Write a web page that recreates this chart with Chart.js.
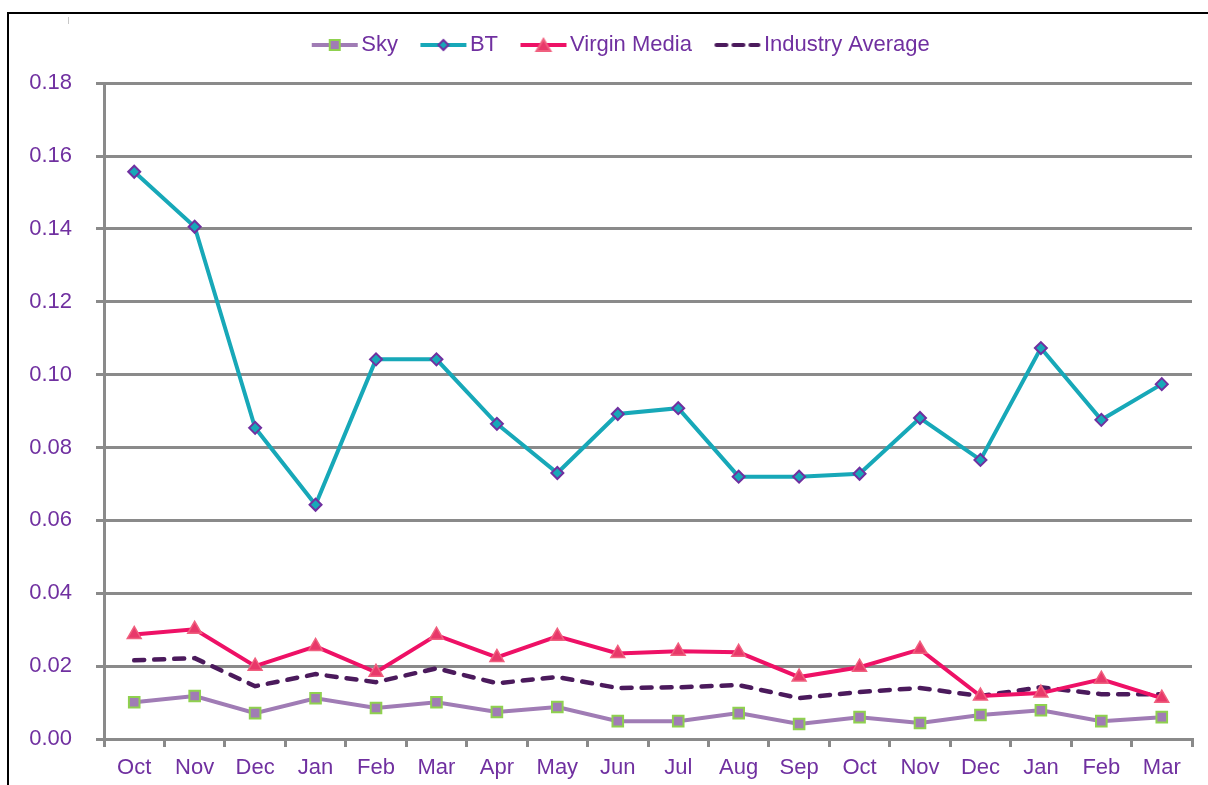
<!DOCTYPE html>
<html>
<head>
<meta charset="utf-8">
<script src="https://cdn.jsdelivr.net/npm/chart.js@4.4.0/dist/chart.umd.min.js"></script>
<style>
  html, body { margin: 0; padding: 0; background: #fff; overflow: hidden; }
  #wrap { position: relative; width: 1208px; height: 785px; }
  #frame { position: absolute; left: 7px; top: 12px; width: 1300px; height: 900px;
           border-left: 2px solid #000; border-top: 2px solid #000; }
  #nick { position: absolute; left: 68px; top: 17px; width: 1px; height: 7px; background: #c8c8c8; }
  canvas { position: absolute; left: 0; top: 0; }
</style>
</head>
<body>
<div id="wrap">
  <div id="frame"></div>
  <div id="nick"></div>
  <canvas id="chart" width="1208" height="785"></canvas>
</div>
<script>
/* ── Data ───────────────────────────────────────── */
const months = ['Oct','Nov','Dec','Jan','Feb','Mar','Apr','May','Jun','Jul','Aug','Sep',
                'Oct','Nov','Dec','Jan','Feb','Mar'];

const sky      = [0.0101,0.0118,0.0071,0.0112,0.0085,0.0101,0.0074,0.0088,0.0049,0.0049,
                  0.0071,0.0041,0.0060,0.0044,0.0066,0.0079,0.0049,0.0060];
const bt       = [0.1557,0.1406,0.0854,0.0643,0.1042,0.1042,0.0865,0.0730,0.0892,0.0908,
                  0.0720,0.0720,0.0728,0.0881,0.0766,0.1073,0.0876,0.0974];
const virgin   = [0.0287,0.0301,0.0200,0.0254,0.0183,0.0285,0.0224,0.0282,0.0235,0.0241,
                  0.0238,0.0170,0.0197,0.0246,0.0118,0.0126,0.0164,0.0112];
const industry = [0.0216,0.0222,0.0145,0.0178,0.0156,0.0194,0.0153,0.0170,0.0140,0.0142,
                  0.0148,0.0112,0.0129,0.0140,0.0118,0.0142,0.0123,0.0123];

const yMin = 0, yMax = 0.18, yStep = 0.02;

/* ── Colours ────────────────────────────────────── */
const TXT   = '#7030a0';
const GRID  = '#8a8a8a';
const C_SKY = '#a07cb5', C_SKY_EDGE = '#8fd14f';
const C_BT  = '#17a8b8', C_BT_EDGE  = '#7030a0';
const C_VM  = '#ee1166', C_VM_FILL  = '#e8386a', C_VM_EDGE = '#f0607f';
const C_IA  = '#4b1a5c';

/* ── Legend symbols (line + marker, Excel style) ── */
function legendSymbol(kind) {
  const c = document.createElement('canvas');
  c.width = 48; c.height = 16;
  const g = c.getContext('2d');
  const cy = 8;
  g.lineWidth = 4;
  if (kind === 'ia') {
    g.strokeStyle = C_IA; g.lineCap = 'round';
    g.setLineDash([10, 7]);
    g.beginPath(); g.moveTo(3, cy); g.lineTo(45, cy); g.stroke();
    return c;
  }
  g.strokeStyle = kind === 'sky' ? C_SKY : kind === 'bt' ? C_BT : C_VM;
  g.beginPath(); g.moveTo(1, cy); g.lineTo(47, cy); g.stroke();
  g.lineWidth = 2;
  if (kind === 'sky') {
    g.fillStyle = C_SKY; g.strokeStyle = C_SKY_EDGE;
    g.fillRect(19, cy - 5, 10, 10); g.strokeRect(19, cy - 5, 10, 10);
  } else if (kind === 'bt') {
    g.fillStyle = C_BT; g.strokeStyle = C_BT_EDGE;
    g.beginPath(); g.moveTo(24, cy - 5); g.lineTo(29, cy); g.lineTo(24, cy + 5); g.lineTo(19, cy); g.closePath();
    g.fill(); g.stroke();
  } else {
    g.fillStyle = C_VM_FILL; g.strokeStyle = C_VM_EDGE;
    g.beginPath(); g.moveTo(24, cy - 6); g.lineTo(31, cy + 6); g.lineTo(17, cy + 6); g.closePath();
    g.fill(); g.stroke();
  }
  return c;
}
const symbols = [legendSymbol('sky'), legendSymbol('bt'), legendSymbol('vm'), legendSymbol('ia')];

// legend sits a little right of centre in the original
const legendNudge = {
  id: 'legendNudge',
  beforeDraw(chart) { if (chart.legend) chart.legend.left = 57; }
};

/* ── Chart ──────────────────────────────────────── */
new Chart(document.getElementById('chart'), {
  type: 'line',
  data: {
    labels: months,
    datasets: [
      { label: 'Sky', data: sky, borderColor: C_SKY, borderWidth: 4,
        pointStyle: 'rect', pointRadius: 7.5, pointBackgroundColor: C_SKY,
        pointBorderColor: C_SKY_EDGE, pointBorderWidth: 2 },
      { label: 'BT', data: bt, borderColor: C_BT, borderWidth: 4,
        pointStyle: 'rectRot', pointRadius: 6, pointBackgroundColor: C_BT,
        pointBorderColor: C_BT_EDGE, pointBorderWidth: 2 },
      { label: 'Virgin Media', data: virgin, borderColor: C_VM, borderWidth: 4,
        pointStyle: 'triangle', pointRadius: 8, pointBackgroundColor: C_VM_FILL,
        pointBorderColor: C_VM_EDGE, pointBorderWidth: 1.5 },
      { label: 'Industry Average', data: industry, borderColor: C_IA, borderWidth: 4.5,
        borderDash: [10, 10], borderCapStyle: 'round', pointRadius: 0 }
    ]
  },
  plugins: [legendNudge],
  options: {
    responsive: false,
    animation: false,
    layout: { padding: { left: 0, right: 16, top: 4, bottom: 0 } },
    plugins: {
      legend: {
        position: 'top',
        labels: {
          usePointStyle: true,
          pointStyleWidth: 31,
          padding: 30,
          color: TXT,
          font: { family: 'Liberation Sans', size: 22 },
          generateLabels: chart => chart.data.datasets.map((ds, i) => ({
            text: ds.label, pointStyle: symbols[i], datasetIndex: i,
            fontColor: TXT, lineWidth: 0, hidden: false
          }))
        }
      },
      // empty spacer between legend and plot
      title: { display: true, text: ' ', weight: 500, font: { size: 1 }, padding: { top: 8, bottom: 8 } },
      tooltip: { enabled: false }
    },
    scales: {
      x: {
        offset: true,
        grid: { drawOnChartArea: false, drawTicks: true, tickLength: 8, offset: true,
                color: GRID, lineWidth: 3 },
        border: { color: GRID, width: 3 },
        ticks: { color: TXT, padding: 8, maxRotation: 0, autoSkip: false,
                 font: { family: 'Liberation Sans', size: 22 } },
        afterFit: s => { s.height = 46; }
      },
      y: {
        min: yMin, max: yMax,
        grid: { color: GRID, lineWidth: 3, tickLength: 8, drawTicks: true },
        border: { color: GRID, width: 3 },
        ticks: { stepSize: yStep, color: TXT, padding: 24,
                 font: { family: 'Liberation Sans', size: 22 },
                 callback: v => v.toFixed(2) },
        afterFit: s => { s.width = 104; }
      }
    }
  }
});
</script>
</body>
</html>
